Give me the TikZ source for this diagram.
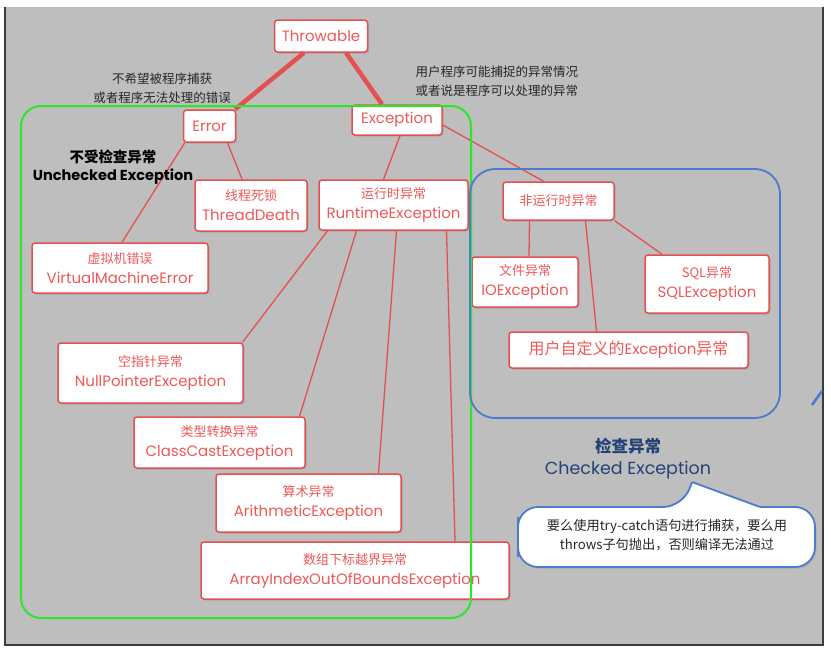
\documentclass[tikz,border=0pt]{standalone}
\usepackage{fontspec}
\setmainfont{Poppins}
\newfontfamily\cjk{Noto Sans CJK SC}
\usepackage{tikz}
\usetikzlibrary{shadows}
\definecolor{bggray}{RGB}{190,190,190}
\definecolor{framegray}{RGB}{60,60,60}
\definecolor{boxred}{RGB}{228,80,80}
\definecolor{txtred}{RGB}{238,88,88}
\definecolor{unchkgreen}{RGB}{40,232,40}
\definecolor{chkblue}{RGB}{76,122,204}
\definecolor{chktext}{RGB}{36,66,118}
\newcommand{\zh}[1]{{\cjk\fontsize{13}{15}\selectfont #1}}
\tikzset{>=latex}
\tikzset{
  excbox/.style 2 args={draw=boxred, line width=1.5pt, fill=white, rounded corners=3pt,
    text=txtred, align=center, inner sep=0pt, minimum width=#1pt, minimum height=#2pt,
    drop shadow={shadow xshift=1.5pt, shadow yshift=-1.5pt, opacity=0.3},
    font=\fontsize{15}{20}\selectfont},
  link/.style={draw=boxred, line width=1.3pt},
  trunk/.style={draw=boxred, line width=4.5pt},
  note/.style={text=black!85, align=center, font=\cjk\fontsize{12.5}{19}\selectfont},
}

\begin{document}
\begin{tikzpicture}[x=1pt, y=-1pt]
    \useasboundingbox (0, 0) rectangle (831, 656);
    \fill[white] (0, 0) rectangle (831, 656);
    \fill[bggray] (5, 7) rectangle (823, 645);
    \draw[framegray, line width=1.5pt] (5, 7) -- (5, 645) -- (823, 645) -- (823, 7);

    \node[excbox={93}{32}] (throw) at (321, 36) {Throwable};
    \node[excbox={52}{32}] (error) at (209.5, 126) {Error};
    \node[excbox={90}{30}] (exc) at (397, 120) {Exception};

    \node[note] (errnote) at (162, 88) {不希望被程序捕获\\或者程序无法处理的错误};
    \node[note, anchor=west, align=left] (excnote) at (412, 81) {用户程序可能捕捉的异常情况\\或者说是程序可以处理的异常};

    \node[excbox={112}{51}] (thread) at (251, 205.5) {\zh{线程死锁}\\ThreadDeath};
    \node[excbox={149}{50}] (runtime) at (393.5, 205) {\zh{运行时异常}\\RuntimeException};
    \node[excbox={176}{50}] (vme) at (120, 268) {\zh{虚拟机错误}\\VirtualMachineError};
    \node[excbox={185}{60}] (npe) at (150.5, 373) {\zh{空指针异常}\\NullPointerException};
    \node[excbox={171}{51}] (cce) at (219.5, 442.5) {\zh{类型转换异常}\\ClassCastException};
    \node[excbox={185}{58}] (arith) at (308.5, 503) {\zh{算术异常}\\ArithmeticException};
    \node[excbox={308}{57}] (aioobe) at (355, 570.5) {\zh{数组下标越界异常}\\ArrayIndexOutOfBoundsException};

    \node[excbox={111}{38}] (nonrt) at (558.5, 201) {\zh{非运行时异常}};
    \node[excbox={106}{50}] (io) at (525, 282) {\zh{文件异常}\\IOException};
    \node[excbox={124}{58}] (sql) at (707, 284) {\zh{SQL异常}\\SQLException};
    \node[excbox={239}{36}] (user) at (628.5, 350) {{\cjk\fontsize{16}{20}\selectfont 用户自定义的}Exception{\cjk\fontsize{16}{20}\selectfont 异常}};

    \draw[trunk] ([xshift=-17pt]throw.south) -- ([xshift=-1pt]error.north east);
    \draw[trunk] ([xshift=25pt]throw.south) -- ([xshift=-15pt]exc.north);

    \draw[link] ([xshift=2pt]error.south west) -- ([xshift=2pt]vme.north);
    \draw[link] ([xshift=18pt]error.south) -- ([xshift=-9pt]thread.north);
    \draw[link] ([xshift=3pt]exc.south) -- ([xshift=-10pt]runtime.north);
    \draw[link] ([yshift=-5pt]exc.east) -- ([xshift=-15pt]nonrt.north);
    \foreach \dx/\child/\cx in {-66/npe/92, -37/cce/80, 3/arith/70, 53/aioobe/100}
        \draw[link] ([xshift=\dx pt]runtime.south) -- ([xshift=\cx pt]\child.north);
    \draw[link] ([xshift=-29pt]nonrt.south) -- ([xshift=4pt]io.north);
    \draw[link] ([xshift=27pt]nonrt.south) -- ([xshift=-32pt]user.north);
    \draw[link] (nonrt.south east) -- ([xshift=-45pt]sql.north);

    \node[text=black, align=center, font=\bfseries\fontsize{14.5}{18}\selectfont] (unchk) at (113, 167)
        {{\cjk\fontsize{14.5}{18}\selectfont 不受检查异常}\\Unchecked Exception};
    \node[text=chktext, align=center, font=\fontsize{17.5}{22}\selectfont] (chk) at (628, 459)
        {{\cjk\bfseries\fontsize{16.5}{22}\selectfont 检查异常}\\Checked Exception};

    \draw[unchkgreen, line width=2pt, rounded corners=20pt] (21, 106) rectangle (471, 618);
    \draw[chkblue, line width=1.8pt, rounded corners=25pt] (470, 169) rectangle (780, 418);
    \draw[chkblue, line width=2.5pt] (812, 405) -- (822, 391);

    \draw[chkblue, line width=1.8pt, fill=white, drop shadow={shadow xshift=1.5pt, shadow yshift=-1.5pt, opacity=0.3}]
        (518, 537) [rounded corners=20pt] -- (518, 507) -- (683, 507) [rounded corners=1pt] -- (692, 482)
        -- (760, 507) [rounded corners=20pt] -- (815, 507) -- (815, 567) -- (518, 567) -- cycle;
    \node[text=black!85, align=center, font=\cjk\fontsize{13.2}{19}\selectfont] (tip) at (667, 535)
        {要么使用try-catch语句进行捕获，要么用\\throws子句抛出，否则编译无法通过};
\end{tikzpicture}
\end{document}
